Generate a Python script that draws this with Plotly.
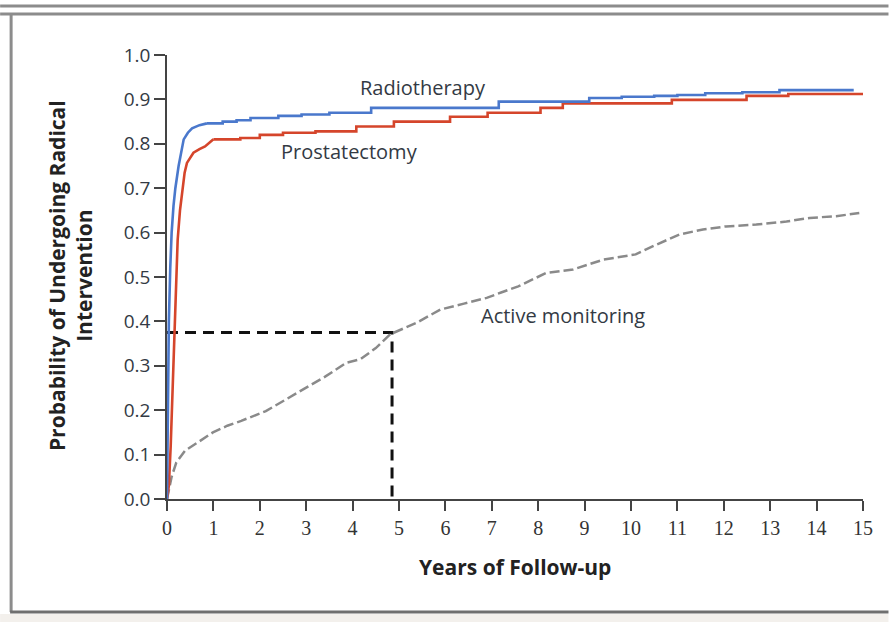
import plotly.graph_objects as go

# ---- data ----
radio_t = [0, 0.02, 0.04, 0.07, 0.10, 0.14, 0.18, 0.25, 0.30, 0.36, 0.45, 0.54, 0.7, 0.86, 1.2, 1.5, 1.8,
           2.4, 2.9, 3.5, 4.4, 7.15, 9.1, 9.8, 10.5, 11.0, 11.6, 12.4, 13.2, 14.8]
radio_p = [0, 0.2, 0.4, 0.52, 0.6, 0.66, 0.7, 0.75, 0.78, 0.81, 0.825, 0.835, 0.842, 0.846, 0.85, 0.853, 0.858,
           0.863, 0.866, 0.87, 0.881, 0.895, 0.903, 0.906, 0.908, 0.91, 0.914, 0.916, 0.921, 0.921]

prost_t = [0, 0.04, 0.08, 0.12, 0.16, 0.20, 0.23, 0.28, 0.33, 0.38, 0.43, 0.5, 0.57, 0.7, 0.82, 1.0, 1.58,
           2.0, 2.5, 3.2, 4.08, 4.89, 6.1, 6.91, 8.05, 8.53, 10.88, 12.49, 13.39, 15.0]
prost_p = [0, 0.03, 0.12, 0.25, 0.4, 0.5, 0.584, 0.65, 0.7, 0.735, 0.757, 0.77, 0.78, 0.788, 0.794, 0.81, 0.813,
           0.82, 0.825, 0.828, 0.839, 0.85, 0.861, 0.87, 0.881, 0.891, 0.899, 0.908, 0.912, 0.912]

active_t = [0, 0.1, 0.2, 0.39, 0.7, 0.99, 1.3, 1.6, 2.13, 2.5, 2.96, 3.4, 3.87, 4.17, 4.5, 4.81, 5.38, 5.9,
            6.4, 6.89, 7.2, 7.57, 8.17, 8.75, 9.4, 10.1, 10.55, 11.05, 11.55, 12.05, 12.7, 13.35, 13.85,
            14.42, 14.92]
active_p = [0, 0.05, 0.082, 0.109, 0.13, 0.15, 0.165, 0.176, 0.198, 0.22, 0.247, 0.275, 0.307, 0.315, 0.34,
            0.371, 0.397, 0.427, 0.44, 0.453, 0.465, 0.479, 0.509, 0.517, 0.539, 0.551, 0.573, 0.596, 0.607,
            0.614, 0.618, 0.625, 0.633, 0.637, 0.644]

median_time = 4.85
median_prob = 0.375

x_ticks = list(range(0, 16))
y_ticks = [i / 10 for i in range(0, 11)]

# ---- figure ----
W, H = 889, 622
L, R, T, B = 167, 863.5, 55, 499   # plot area in pixels


def px(x):
    return (x - L) / (R - L)


def py(y):
    return (B - y) / (B - T)


fig = go.Figure()

fig.add_trace(go.Scatter(x=[0, median_time, median_time], y=[median_prob, median_prob, 0],
                         mode="lines", line=dict(color="#111111", width=3, dash="11px,7px"),
                         hoverinfo="skip", showlegend=False))
fig.add_trace(go.Scatter(x=active_t, y=active_p, mode="lines", name="Active monitoring",
                         line=dict(color="#8a8a8a", width=2.5, dash="10px,4px"), showlegend=False))


def km_traces(t, p, color, name, k):
    # steep early rise drawn smoothly, later follow-up drawn as steps
    fig.add_trace(go.Scatter(x=t[:k + 1], y=p[:k + 1], mode="lines", name=name,
                             line=dict(color=color, width=2.6), showlegend=False))
    fig.add_trace(go.Scatter(x=t[k:], y=p[k:], mode="lines", name=name, line_shape="hv",
                             line=dict(color=color, width=2.6), showlegend=False))


km_traces(prost_t, prost_p, "#d5452b", "Prostatectomy", 15)
km_traces(radio_t, radio_p, "#4a78cc", "Radiotherapy", 13)

text_col = "#333a44"
ann_font = dict(family="Open Sans", size=20, color=text_col)
fig.add_annotation(x=5.51, y=0.926, text="Radiotherapy", showarrow=False, font=ann_font)
fig.add_annotation(x=3.94, y=0.782, text="Prostatectomy", showarrow=False, font=ann_font)
fig.add_annotation(x=8.53, y=0.413, text="Active monitoring", showarrow=False, font=ann_font)

# axis titles
fig.add_annotation(xref="paper", yref="paper", x=px(515), y=py(567), xanchor="center", yanchor="middle",
                   text="<b>Years of Follow-up</b>",
                   showarrow=False, font=dict(family="Open Sans", size=21, color="#222222"))
fig.add_annotation(xref="paper", yref="paper", x=px(70), y=py(276), xanchor="center", yanchor="middle",
                   text="<b>Probability of Undergoing Radical<br>Intervention</b>", textangle=-90,
                   showarrow=False, font=dict(family="Open Sans", size=21, color="#222222"))

# frame
frame_col = "#8c8c8c"
shapes = [
    dict(type="rect", xref="paper", yref="paper", x0=px(0), x1=px(W), y0=py(614), y1=py(H + 2),
         fillcolor="#f3f0ec", line=dict(width=0), layer="below"),
    dict(type="line", xref="paper", yref="paper", x0=px(0), x1=px(W), y0=py(6), y1=py(6),
         line=dict(color=frame_col, width=3)),
    dict(type="line", xref="paper", yref="paper", x0=px(0), x1=px(W), y0=py(14), y1=py(14),
         line=dict(color=frame_col, width=3)),
    dict(type="line", xref="paper", yref="paper", x0=px(11), x1=px(11), y0=py(14), y1=py(612),
         line=dict(color=frame_col, width=3)),
    dict(type="line", xref="paper", yref="paper", x0=px(10), x1=px(W), y0=py(612), y1=py(612),
         line=dict(color="#6f6f6f", width=3)),
]

fig.update_layout(
    width=W, height=H,
    margin=dict(l=L, r=W - R, t=T, b=H - B, pad=0),
    paper_bgcolor="white", plot_bgcolor="white",
    shapes=shapes,
    showlegend=False,
    xaxis=dict(range=[0, 15], tickvals=x_ticks, ticktext=[str(v) for v in x_ticks],
               showgrid=False, zeroline=False, showline=True, linecolor="#444444", linewidth=1.5,
               ticks="outside", ticklen=10, tickwidth=1.5, tickcolor="#444444",
               tickfont=dict(family="Liberation Serif", size=20, color="#333333"), fixedrange=True),
    yaxis=dict(range=[0, 1], tickvals=y_ticks, ticktext=[f"{v:.1f}" for v in y_ticks],
               showgrid=False, zeroline=False, showline=True, linecolor="#444444", linewidth=1.5,
               ticks="outside", ticklen=11, tickwidth=1.5, tickcolor="#444444",
               tickfont=dict(family="Open Sans", size=19, color="#333a44"), fixedrange=True),
)

fig.write_html("out.html", config={"displayModeBar": False},
               post_script="document.body.style.margin='0';document.body.style.overflow='hidden';")
